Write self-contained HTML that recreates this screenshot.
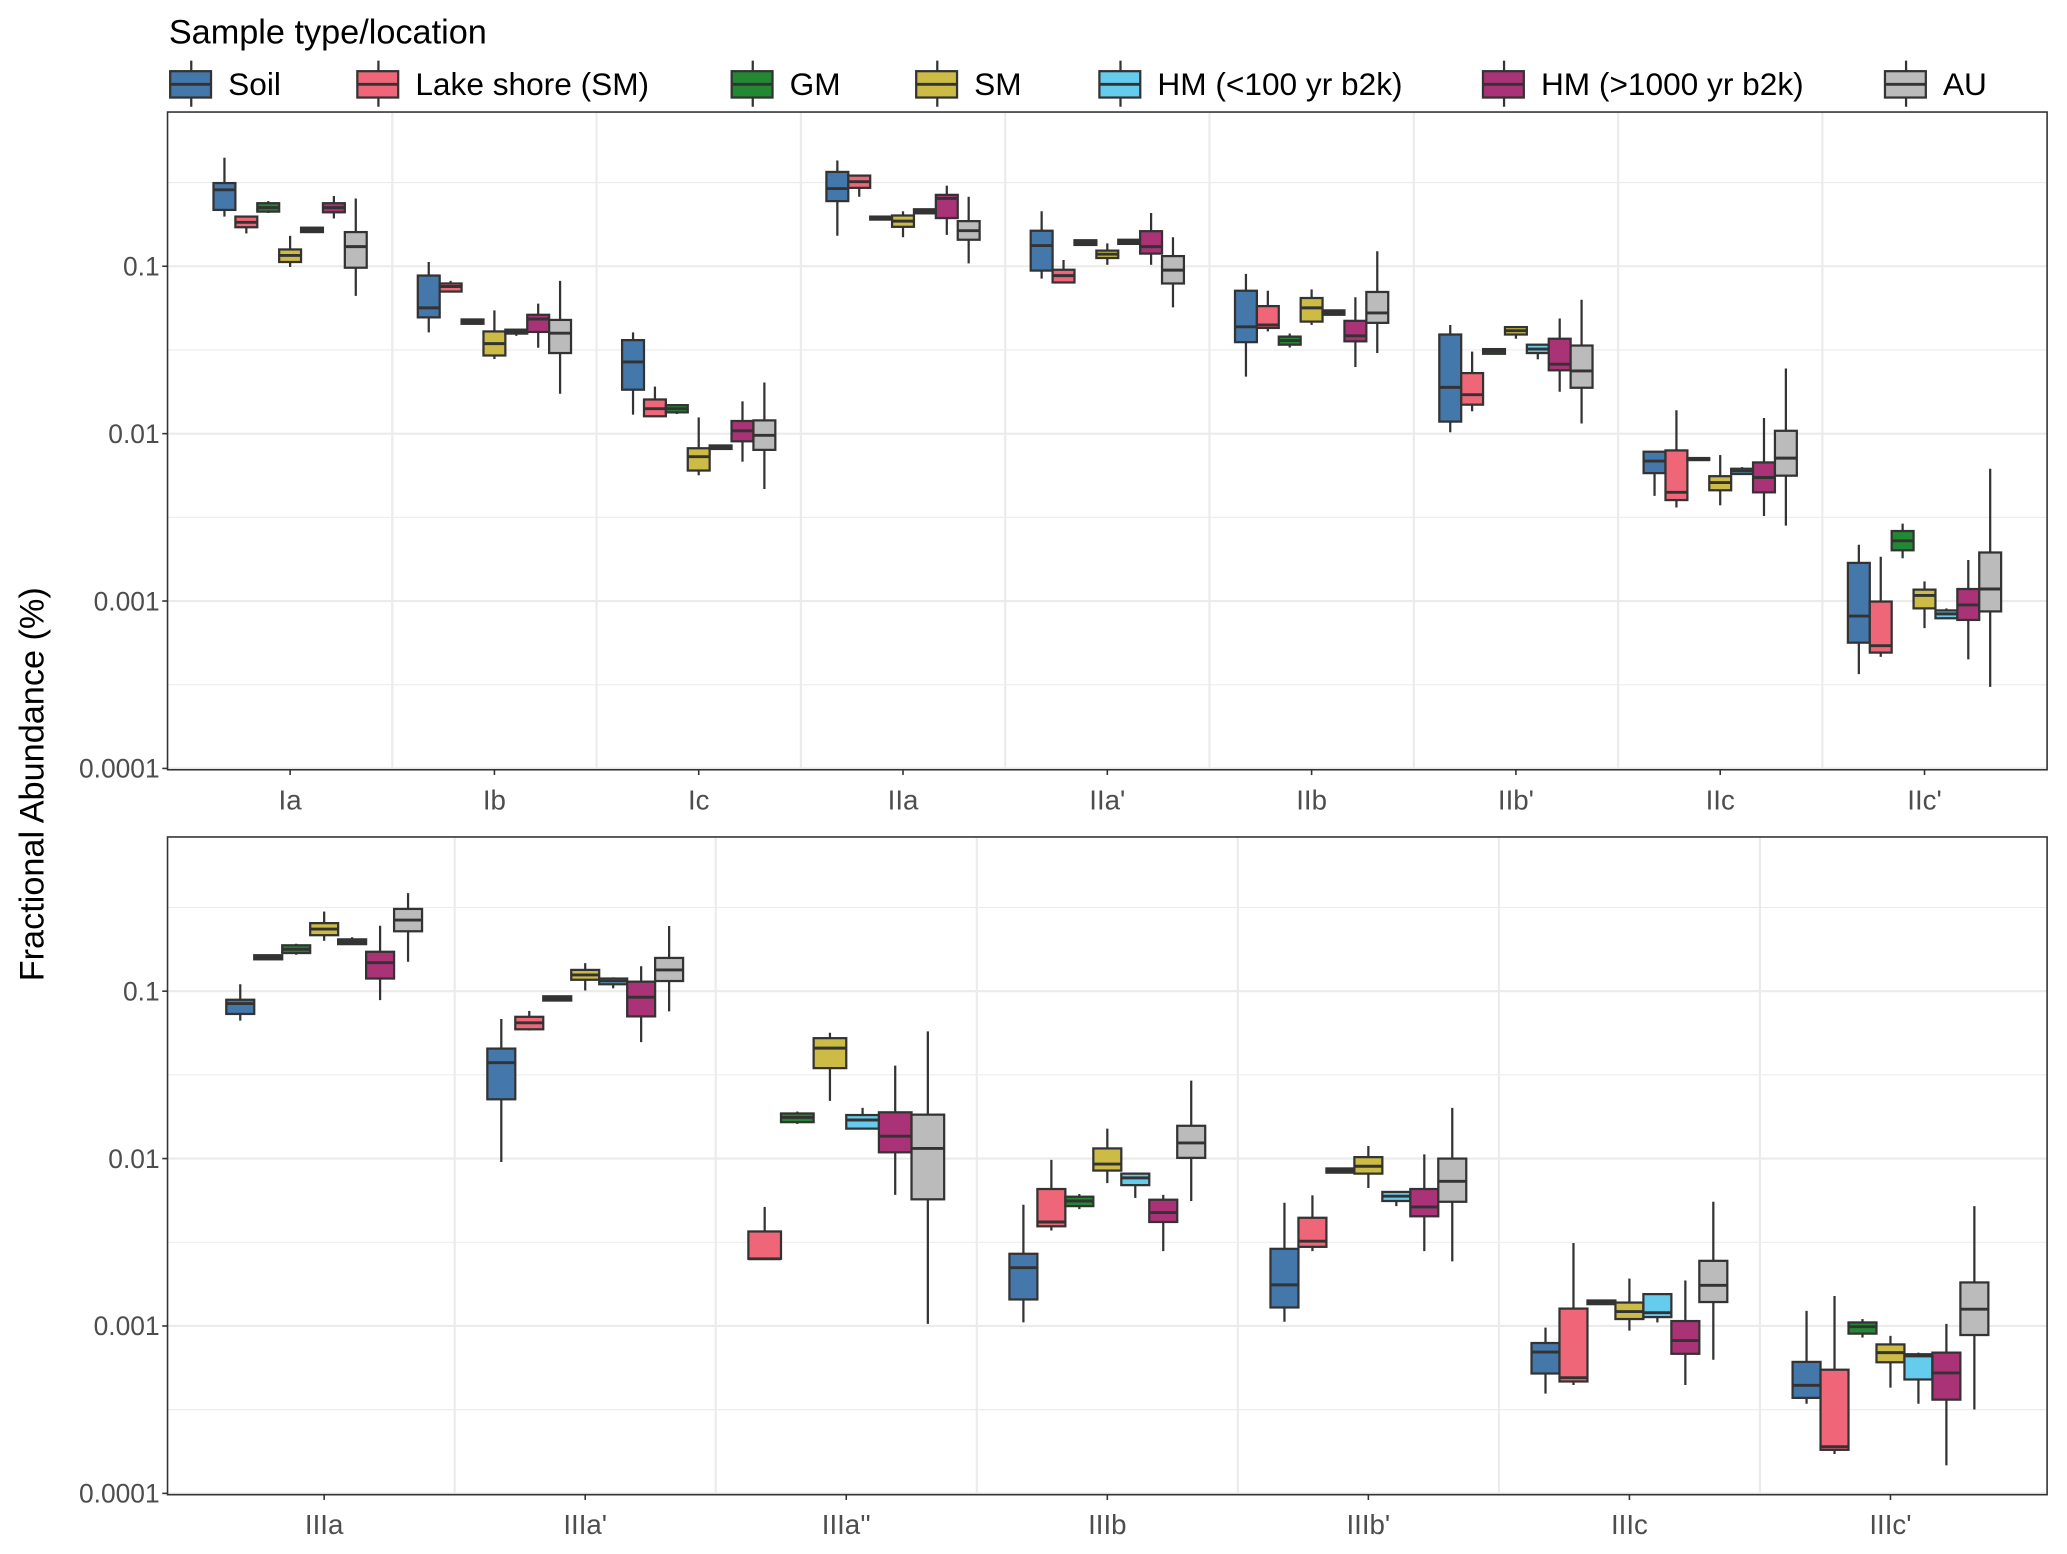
<!DOCTYPE html>
<html><head><meta charset="utf-8"><style>
html,body{margin:0;padding:0;background:#fff;}
svg{display:block;font-family:"Liberation Sans",Arial,sans-serif;}
</style></head><body>
<svg id="chart" width="2067" height="1554" viewBox="0 0 1568 1179" xmlns="http://www.w3.org/2000/svg">
<g id="legend"></g>
<g id="top"></g>
<g id="bottom"></g>
<text transform="translate(33,595) rotate(-90)" text-anchor="middle" font-size="26" fill="#000">Fractional Abundance (%)</text>
</svg>
<script>
// ---- data ----
const groups = ["Soil","Lake shore (SM)","GM","SM","HM (<100 yr b2k)","HM (>1000 yr b2k)","AU"];
const colors = ["#4477aa","#ee6677","#228833","#ccbb44","#66ccee","#aa3377","#bbbbbb"];
const topCategories = ["Ia","Ib","Ic","IIa","IIa'","IIb","IIb'","IIc","IIc'"];
const bottomCategories = ["IIIa","IIIa'","IIIa''","IIIb","IIIb'","IIIc","IIIc'"];
const yTicks = [0.1,0.01,0.001,0.0001];
const yTickLabels = ["0.1","0.01","0.001","0.0001"];
// each row: [min, q1, median, q3, max] per group (null = absent)
const statsIa = [[.198,.217,.286,.314,.445],[.157,.171,.183,.198,.198],[.208,.212,.224,.238,.245],[.099,.106,.116,.126,.152],[.160,.160,.165,.170,.170],[.193,.210,.224,.238,.263],[.0665,.098,.131,.160,.254]];
const statsIb = [[.0403,.0495,.0564,.088,.106],[.0706,.0706,.0757,.0789,.0818],[.0453,.0453,.0467,.0481,.0481],[.0279,.0293,.0345,.0408,.0545],[.0384,.0396,.0408,.0418,.0418],[.0326,.0405,.0484,.0513,.0598],[.0173,.0303,.0398,.0478,.0818]];
const statsIc = [[.0130,.0183,.0268,.0362,.0403],[.0127,.0127,.0141,.0160,.0191],[.0131,.0134,.0141,.0148,.0149],[.00564,.00602,.00728,.00818,.0125],[.0081,.0081,.00828,.0085,.0085],[.0068,.0090,.0104,.0119,.0156],[.00467,.0080,.00977,.0120,.0202]];
const statsIIa = [[.152,.245,.291,.366,.428],[.260,.294,.320,.348,.348],[.190,.190,.195,.198,.198],[.149,.172,.186,.201,.213],[.207,.207,.213,.219,.219],[.154,.194,.254,.267,.303],[.104,.144,.163,.186,.260]];
const statsIIa2 = [[.0843,.0942,.133,.163,.213],[.080,.080,.0879,.0953,.109],[.134,.134,.138,.143,.143],[.102,.112,.118,.124,.137],[.136,.136,.140,.144,.144],[.102,.119,.131,.162,.208],[.0568,.0789,.0948,.115,.149]];
const statsIIb = [[.0219,.0352,.0435,.0714,.090],[.0408,.0428,.0446,.0578,.0714],[.0327,.0340,.0360,.0380,.0396],[.0446,.0467,.0564,.0646,.0727],[.0513,.0513,.0529,.0545,.0545],[.0250,.0356,.0384,.0472,.0653],[.0303,.0459,.0526,.0702,.123]];
const statsIIb2 = [[.0102,.0118,.0189,.0391,.0446],[.0136,.0149,.0171,.0230,.0309],[.0300,.0300,.0311,.0320,.0320],[.0369,.0391,.0412,.0433,.0433],[.0278,.0303,.0320,.0340,.0340],[.0178,.0239,.0260,.0369,.0487],[.0115,.0188,.0237,.0336,.0631]];
const statsIIc = [[.00425,.00581,.00686,.0078,.0078],[.00362,.00401,.00446,.00794,.0138],[.00695,.00695,.00706,.00715,.00715],[.00373,.00459,.0051,.00557,.00745],[.00574,.00574,.00598,.00617,.00631],[.00322,.00446,.00547,.00673,.0124],[.00282,.00561,.00714,.0104,.0245]];
const statsIIc2 = [[.000366,.000564,.000813,.00169,.00217],[.000464,.000492,.000541,.000993,.00184],[.0018,.00201,.00229,.00262,.0029],[.000689,.000904,.00108,.00117,.00131],[.000789,.000789,.000838,.000879,.000904],[.000448,.000771,.000948,.00118,.00176],[.000307,.000867,.00118,.00195,.00617]];
const statsIIIa = [[.0667,.0731,.0843,.0889,.110],[.155,.155,.159,.164,.164],[.165,.169,.178,.188,.192],[.200,.216,.235,.255,.299],[.191,.191,.197,.204,.210],[.0884,.119,.148,.172,.246],[.150,.228,.266,.310,.385]];
const statsIIIa2 = [[.00954,.0226,.0374,.0454,.0682],[.0582,.0592,.0647,.0703,.0762],[.0879,.0879,.0905,.0932,.0932],[.101,.117,.125,.134,.147],[.104,.110,.115,.119,.121],[.0496,.0707,.0921,.114,.141],[.0758,.115,.134,.158,.245]];
const statsIIIa3 = [null,[.00252,.00252,.00252,.00367,.00514],[.0161,.0165,.0176,.0186,.0191],[.0221,.0347,.0457,.0524,.0565],[.0151,.0151,.0170,.0182,.0201],[.00607,.0109,.0136,.0189,.0359],[.00103,.00571,.0115,.0183,.0575]];
const statsIIIb = [[.00105,.00144,.00223,.0027,.0053],[.00372,.00394,.00418,.00658,.00982],[.00499,.0052,.00558,.00592,.00614],[.00714,.00848,.00927,.0115,.0151],[.00582,.00694,.00767,.00813,.00813],[.0028,.00418,.00476,.00568,.00607],[.00558,.0101,.0124,.0157,.0292]];
const statsIIIb2 = [[.00106,.00129,.00176,.00289,.00545],[.0028,.00297,.00321,.00443,.00603],[.00824,.00824,.00848,.00873,.00873],[.00667,.00813,.009,.0102,.0119],[.0052,.00558,.00596,.00632,.0064],[.0028,.00452,.00514,.00658,.0106],[.00243,.00552,.00731,.01,.0201]];
const statsIIIc = [[.000394,.00052,.000698,.000791,.000977],[.000444,.000466,.000491,.00127,.00313],[.00135,.00135,.00138,.00142,.00142],[.000938,.0011,.00122,.00138,.00192],[.00105,.00113,.0012,.00155,.00157],[.000444,.000682,.000818,.00107,.00187],[.000628,.00139,.00175,.00245,.00552]];
const statsIIIc2 = [[.000343,.000372,.000442,.00061,.00123],[.000172,.000182,.00019,.000548,.00151],[.000853,.0009,.00099,.00105,.0011],[.000428,.000607,.000693,.000776,.000873],[.000343,.000479,.000662,.000678,.000693],[.000147,.000363,.000524,.000693,.00103],[.000317,.000883,.00126,.00182,.0052]];
const topStats = [statsIa,statsIb,statsIc,statsIIa,statsIIa2,statsIIb,statsIIb2,statsIIc,statsIIc2];
const bottomStats = [statsIIIa,statsIIIa2,statsIIIa3,statsIIIb,statsIIIb2,statsIIIc,statsIIIc2];

const NS = "http://www.w3.org/2000/svg";
function mk(tag, attrs, parent){const e=document.createElementNS(NS,tag);for(const k in attrs)e.setAttribute(k,attrs[k]);parent.appendChild(e);return e;}

function drawPanel(g, cats, stats, y0, panelName){
  const x0=127,x1=1553,h=499;
  const y01 = y0+117; // y of 0.1
  const dec = 127;
  const yScale = v => y01 - dec*(Math.log10(v)+1);
  const step = (x1-x0)/(cats.length-1+1.2);
  const xScale = i => x0 + (0.6+i)*step;
  const bg = mk("rect",{x:x0,y:y0,width:x1-x0,height:h,fill:"#fff"},g);
  
  
  for(let k=0;k<4;k++){
    const ln=mk("line",{x1:x0,x2:x1,y1:yScale(yTicks[k]*Math.sqrt(10)),y2:yScale(yTicks[k]*Math.sqrt(10)),stroke:"#ebebeb","stroke-width":0.8},g);
    
    
  }
  yTicks.forEach((t,k)=>{
    const yy=yScale(t);
    const ln=mk("line",{x1:x0,x2:x1,y1:yy,y2:yy,stroke:"#ebebeb","stroke-width":1.6},g);
    
    
    const tk=mk("line",{x1:x0-4,x2:x0,y1:yy,y2:yy,stroke:"#333","stroke-width":1.2},g);
    
    
    const tx=mk("text",{x:x0-6,y:yy+7,"text-anchor":"end","font-size":20,fill:"#4d4d4d"},g);
    tx.textContent=yTickLabels[k];
    
    
  });
  for(let i=0;i<cats.length-1;i++){
    const xx=xScale(i)+step/2;
    const ln=mk("line",{x1:xx,x2:xx,y1:y0,y2:y0+h,stroke:"#ebebeb","stroke-width":1.6},g);
    
    
  }
  cats.forEach((c,i)=>{
    const cx=xScale(i);
    const tk=mk("line",{x1:cx,x2:cx,y1:y0+h,y2:y0+h+4,stroke:"#333","stroke-width":1.2},g);
    
    
    const tx=mk("text",{x:cx,y:y0+h+30,"text-anchor":"middle","font-size":21,fill:"#4d4d4d"},g);
    tx.textContent=c;
    
    
    const rows=stats[i];
    const present=[];rows.forEach((r,j)=>{if(r)present.push(j);});
    const W=0.75*step, bw=W/present.length;
    present.forEach((j,p)=>{
      const r=rows[j];
      const bx=cx-W/2+p*bw, mx=bx+bw/2;
      const bgp=mk("g",{},g);
      
      
      mk("line",{x1:mx,x2:mx,y1:yScale(r[4]),y2:yScale(r[0]),stroke:"#333","stroke-width":1.7},bgp);
      const yq3=yScale(r[3]), yq1=yScale(r[1]);
      mk("rect",{x:bx,y:yq3,width:bw,height:Math.max(yq1-yq3,0.5),fill:colors[j],stroke:"#333","stroke-width":1.7},bgp);
      mk("line",{x1:bx,x2:bx+bw,y1:yScale(r[2]),y2:yScale(r[2]),stroke:"#333","stroke-width":2.2},bgp);
    });
  });
  const br=mk("rect",{x:x0,y:y0,width:x1-x0,height:h,fill:"none",stroke:"#333","stroke-width":1.2},g);
  
  
}
drawPanel(document.getElementById("top"), topCategories, topStats, 85, "top-panel");
drawPanel(document.getElementById("bottom"), bottomCategories, bottomStats, 635, "bottom-panel");

// legend
const lg=document.getElementById("legend");
const title=mk("text",{x:128,y:33,"font-size":26,fill:"#000"},lg);
title.textContent="Sample type/location";


const keyX=[129,271,555,695,834,1125,1430];
groups.forEach((gname,j)=>{
  const e=mk("g",{},lg);
  
  
  const kx=keyX[j];
  mk("line",{x1:kx+16,x2:kx+16,y1:46,y2:81,stroke:"#333","stroke-width":1.7},e);
  mk("rect",{x:kx,y:54,width:31,height:20,fill:colors[j],stroke:"#333","stroke-width":1.7},e);
  mk("line",{x1:kx,x2:kx+31,y1:64,y2:64,stroke:"#333","stroke-width":2.2},e);
  const t=mk("text",{x:kx+44,y:72,"font-size":24,fill:"#000"},e);
  t.textContent=gname;
});
</script>
</body></html>
